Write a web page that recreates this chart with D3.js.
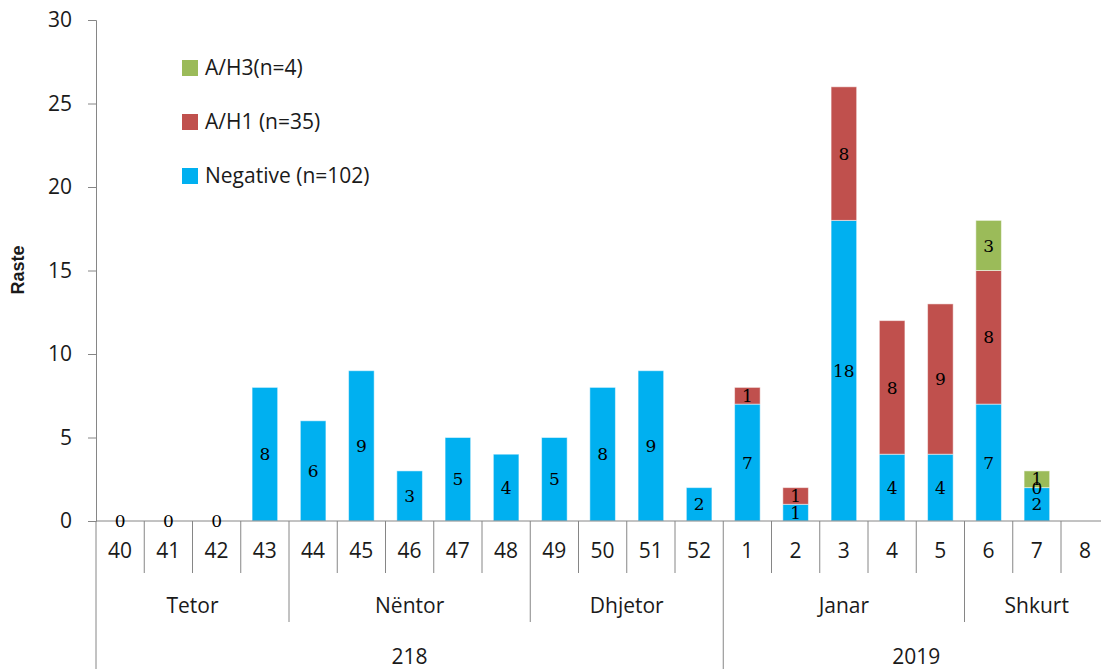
<!DOCTYPE html>
<html>
<head>
<meta charset="utf-8">
<script src="https://cdn.jsdelivr.net/npm/d3@7"></script>
<style>
	body { margin: 0; background: #fff; }
	.c-svg { width: 1101px; height: 669px; }
	text { font-family: "Open Sans", "Liberation Sans", Arial, sans-serif; fill: #1a1a1a; }
	.bar-label { font-family: "DejaVu Serif", serif; fill: #000; }
</style>
</head>
<body>
<div class="c-svg"></div>
<script>
//DATA
//-------------------------------------------------------------------------

const weeks = ["40","41","42","43","44","45","46","47","48","49","50","51","52","1","2","3","4","5","6","7","8"];
const negative = [0,0,0,8,6,9,3,5,4,5,8,9,2,7,1,18,4,4,7,2,null];
const ah1 = [null,null,null,null,null,null,null,null,null,null,null,null,null,1,1,8,8,9,8,0,null];
const ah3 = [null,null,null,null,null,null,null,null,null,null,null,null,null,null,null,null,null,null,3,1,null];

const months = ["Tetor","Nëntor","Dhjetor","Janar","Shkurt"];
const monthSpans = [4,5,4,5,3];
const years = ["218","2019"];
const yearSpans = [13,8];

const yTicks = [0,5,10,15,20,25,30];

const seriesNames = ["A/H3(n=4)","A/H1 (n=35)","Negative (n=102)"];
const colors = ["#9bbb59","#c0504d","#00b0f0"];


//INITIALISATION
//-------------------------------------------------------------------------

const opts = {
	width: 1101,
	height: 669,
	left: 96,
	top: 20,
	bottom: 521
};

const svg = d3.select(".c-svg")
	.append("svg")
	.attr("width", opts.width)
	.attr("height", opts.height);

const x = d3.scaleBand()
	.domain(weeks)
	.range([opts.left, opts.left + 21 * 48.25])
	.paddingInner(0.47)
	.paddingOuter(0.235);

const step = x.step();
const xStart = opts.left;

const y = d3.scaleLinear()
	.domain([0, 30])
	.range([opts.bottom, opts.top]);

const axisColor = "#868686";


//BARS
//-------------------------------------------------------------------------

const stacks = weeks.map((w, i) => {
	let segs = [];
	let base = 0;
	[[negative[i], colors[2]], [ah1[i], colors[1]], [ah3[i], colors[0]]].forEach(([v, c]) => {
		if (v !== null) {
			segs.push({ week: w, y0: base, y1: base + v, v: v, color: c });
			base += v;
		}
	});
	return segs;
}).flat();

svg.append("g")
	.selectAll("rect")
	.data(stacks.filter(d => d.v > 0))
	.join("rect")
	.attr("x", d => x(d.week))
	.attr("width", x.bandwidth())
	.attr("y", d => y(d.y1))
	.attr("height", d => y(d.y0) - y(d.y1))
	.style("fill", d => d.color)
	.style("stroke", "#ffffff")
	.style("stroke-opacity", 0.5)
	.style("stroke-width", 1);


//AXES
//-------------------------------------------------------------------------

const yAxis = svg.append("g")
	.attr("transform", `translate(${opts.left},0)`)
	.call(d3.axisLeft(y).tickValues(yTicks).tickSize(8).tickPadding(16));

yAxis.select(".domain").attr("stroke", axisColor);
yAxis.selectAll(".tick line").attr("stroke", axisColor);
yAxis.selectAll(".tick text")
	.style("font-size", "21px")
	.style("font-family", "'Open Sans', sans-serif")
	.style("fill", "#1a1a1a");

//horizontal base line
svg.append("line")
	.attr("x1", opts.left).attr("x2", opts.width)
	.attr("y1", y(0)).attr("y2", y(0))
	.style("stroke", axisColor);

//left line extended under the category rows
svg.append("line")
	.attr("x1", opts.left).attr("x2", opts.left)
	.attr("y1", y(0)).attr("y2", opts.height)
	.style("stroke", axisColor);

//week separators and labels
const weekRow = svg.append("g");
weeks.forEach((w, i) => {
	if (i > 0) {
		weekRow.append("line")
			.attr("x1", xStart + i * step).attr("x2", xStart + i * step)
			.attr("y1", y(0)).attr("y2", 573)
			.style("stroke", axisColor);
	}
	weekRow.append("text")
		.attr("x", x(w) + x.bandwidth() / 2)
		.attr("y", 558)
		.attr("text-anchor", "middle")
		.style("font-size", "21px")
		.text(w);
});

//month row
let pos = 0;
months.forEach((m, i) => {
	const x0 = xStart + pos * step;
	const x1 = xStart + (pos + monthSpans[i]) * step;
	if (pos > 0) {
		svg.append("line")
			.attr("x1", x0).attr("x2", x0)
			.attr("y1", 573).attr("y2", 622)
			.style("stroke", axisColor);
	}
	svg.append("text")
		.attr("x", (x0 + Math.min(x1, opts.width + 8)) / 2)
		.attr("y", 613)
		.attr("text-anchor", "middle")
		.style("font-size", "21px")
		.text(m);
	pos += monthSpans[i];
});

//year row
pos = 0;
years.forEach((yr, i) => {
	const x0 = xStart + pos * step;
	const x1 = xStart + (pos + yearSpans[i]) * step;
	if (pos > 0) {
		svg.append("line")
			.attr("x1", x0).attr("x2", x0)
			.attr("y1", 622).attr("y2", opts.height)
			.style("stroke", axisColor);
	}
	svg.append("text")
		.attr("x", (x0 + x1) / 2)
		.attr("y", 664)
		.attr("text-anchor", "middle")
		.style("font-size", "21px")
		.text(yr);
	pos += yearSpans[i];
});


//BAR LABELS
//-------------------------------------------------------------------------

svg.append("g")
	.selectAll("text")
	.data(stacks)
	.join("text")
	.attr("class", "bar-label")
	.attr("x", d => x(d.week) + x.bandwidth() / 2)
	.attr("y", d => y((d.y0 + d.y1) / 2))
	.attr("dy", "0.36em")
	.attr("text-anchor", "middle")
	.style("font-size", "17px")
	.text(d => d.v);


//Y LABEL
//-------------------------------------------------------------------------

svg.append("text")
	.attr("transform", "translate(24,270) rotate(-90)")
	.attr("text-anchor", "middle")
	.style("font-size", "18px")
	.style("font-weight", "bold")
	.style("font-family", "'Liberation Sans', sans-serif")
	.text("Raste");


//LEGEND
//-------------------------------------------------------------------------

const legendY = [60, 114, 168];
const legend = svg.append("g");

seriesNames.forEach((name, i) => {
	legend.append("rect")
		.attr("x", 182).attr("y", legendY[i])
		.attr("width", 16).attr("height", 16)
		.style("fill", colors[i]);
	legend.append("text")
		.attr("x", 205).attr("y", legendY[i] + 15)
		.style("font-size", "21px")
		.text(name);
});
</script>
</body>
</html>
